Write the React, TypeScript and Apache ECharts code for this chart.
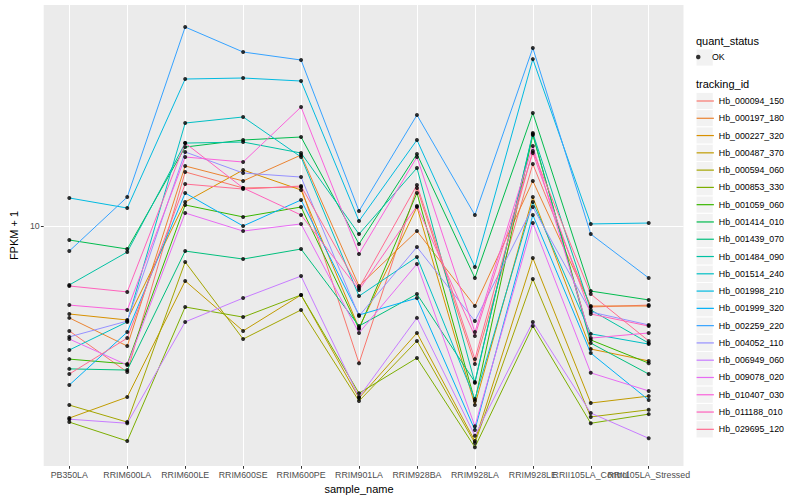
import React, { useEffect, useRef } from "react";
import * as echarts from "echarts";

const samples = [
  "PB350LA", "RRIM600LA", "RRIM600LE", "RRIM600SE", "RRIM600PE", "RRIM901LA",
  "RRIM928BA", "RRIM928LA", "RRIM928LE", "RRII105LA_Control", "RRII105LA_Stressed",
];
const trackingIds = [
  "Hb_000094_150", "Hb_000197_180", "Hb_000227_320", "Hb_000487_370", "Hb_000594_060",
  "Hb_000853_330", "Hb_001059_060", "Hb_001414_010", "Hb_001439_070", "Hb_001484_090",
  "Hb_001514_240", "Hb_001998_210", "Hb_001999_320", "Hb_002259_220", "Hb_004052_110",
  "Hb_006949_060", "Hb_009078_020", "Hb_010407_030", "Hb_011188_010", "Hb_029695_120",
];
const quantStatus = ["OK"];
const yTicks = [10];

// FPKM + 1 per sample (order of `samples`)
const hb000094_150 = [4.47, 3.26, 15.14, 13.39, 13.49, 3.49, 13.39, 3.47, 16.09, 5.37, 5.45];
const hb000197_180 = [4.94, 3.98, 15.85, 14.13, 17.24, 6.31, 9.62, 5.41, 14.13, 5.41, 5.41];
const hb000227_320 = [5.09, 4.86, 12.02, 15.37, 13.18, 4.57, 11.57, 2.53, 12.49, 3.89, 3.55];
const hb000487_370 = [2.29, 2.69, 6.56, 4.47, 5.89, 2.67, 4.40, 1.92, 7.82, 2.57, 2.71];
const hb000594_060 = [2.53, 2.22, 7.59, 4.20, 5.25, 2.61, 4.14, 1.89, 6.66, 2.31, 2.44];
const hb000853_330 = [2.22, 1.92, 5.37, 4.97, 5.89, 2.77, 3.63, 1.83, 4.64, 2.20, 2.36];
const hb001059_060 = [3.60, 3.47, 11.75, 10.72, 11.57, 4.54, 12.88, 2.61, 20.10, 4.17, 3.49];
const hb001414_010 = [8.98, 8.38, 18.33, 19.35, 19.80, 8.71, 17.38, 6.71, 23.81, 6.07, 5.67];
const hb001439_070 = [3.34, 3.31, 8.25, 7.76, 8.38, 4.64, 5.93, 3.02, 20.26, 4.07, 3.21];
const hb001484_090 = [6.36, 8.19, 18.90, 19.05, 17.51, 9.40, 15.61, 3.00, 20.42, 5.25, 4.07];
const hb001514_240 = [3.86, 4.79, 22.04, 23.09, 16.98, 5.84, 7.88, 2.65, 12.02, 4.37, 4.04];
const hb001998_210 = [12.40, 11.48, 30.90, 31.14, 30.43, 10.39, 19.35, 7.30, 36.00, 10.16, 10.23];
const hb001999_320 = [2.95, 4.43, 12.88, 10.00, 12.21, 5.05, 5.75, 2.09, 10.88, 3.77, 2.63];
const hb002259_220 = [8.25, 12.49, 46.05, 38.02, 35.75, 11.22, 23.44, 10.88, 39.20, 9.40, 6.71];
const hb004052_110 = [4.27, 4.82, 17.65, 15.02, 14.56, 5.01, 8.51, 4.82, 11.57, 5.17, 4.68];
const hb006949_060 = [2.27, 2.20, 4.79, 5.75, 6.81, 2.69, 4.94, 2.00, 4.79, 2.38, 1.96];
const hb009078_020 = [4.20, 3.44, 11.05, 9.62, 10.16, 4.40, 7.47, 2.15, 10.23, 3.24, 2.82];
const hb010407_030 = [5.45, 5.25, 16.98, 16.34, 24.93, 8.07, 16.98, 4.43, 18.48, 4.23, 4.40];
const hb011188_010 = [6.31, 6.03, 18.90, 13.39, 10.88, 6.12, 11.66, 4.30, 17.51, 5.09, 4.64];
const hb029695_120 = [3.21, 4.23, 13.80, 13.28, 13.59, 6.21, 13.70, 3.60, 17.78, 5.93, 4.14];

const fpkmPlusOne = [
  hb000094_150, hb000197_180, hb000227_320, hb000487_370, hb000594_060,
  hb000853_330, hb001059_060, hb001414_010, hb001439_070, hb001484_090,
  hb001514_240, hb001998_210, hb001999_320, hb002259_220, hb004052_110,
  hb006949_060, hb009078_020, hb010407_030, hb011188_010, hb029695_120,
];

const palette = [
  "#F8766D", "#EA8331", "#D89000", "#C09B00", "#A3A500", "#7CAE00", "#39B600",
  "#00BB4E", "#00BF7D", "#00C1A3", "#00BFC4", "#00BAE0", "#00B0F6", "#35A2FF",
  "#9590FF", "#C77CFF", "#E76BF3", "#FA62DB", "#FF62BC", "#FF6C91",
];

export default function App() {
  const ref = useRef<HTMLDivElement>(null);
  useEffect(() => {
    if (!ref.current) return;
    const chart = echarts.init(ref.current, null, { renderer: "svg" });
    const font = "'Liberation Sans', Arial, sans-serif";
    const yMin = Math.pow(10, 0.2);
    const yMax = Math.pow(10, 1.7367);
    const keyX = 696;
    const keySize = 17.28;
    const firstKeyCenter = 101;
    const iconBox = keySize * 0.8;
    const okCenter = 57.5;

    const lineSeries = trackingIds.map((id, i) => ({
      name: id,
      type: "line",
      xAxisIndex: 1,
      yAxisIndex: 1,
      data: fpkmPlusOne[i],
      symbol: "none",
      color: palette[i],
      lineStyle: { color: palette[i], width: 1 },
      itemStyle: { color: palette[i] },
      z: 2,
      silent: true,
    }));

    const points: any[] = [];
    fpkmPlusOne.forEach((vals) => {
      vals.forEach((v, j) => points.push([samples[j], v]));
    });

    const keyRects: any[] = [
      {
        type: "rect",
        shape: { x: keyX, y: okCenter - keySize / 2, width: keySize, height: keySize },
        style: { fill: "#F2F2F2", stroke: "#FFFFFF", lineWidth: 1 },
        z: 0,
      },
    ];
    trackingIds.forEach((_, i) => {
      keyRects.push({
        type: "rect",
        shape: {
          x: keyX,
          y: firstKeyCenter - keySize / 2 + keySize * i,
          width: keySize,
          height: keySize,
        },
        style: { fill: "#F2F2F2", stroke: "#FFFFFF", lineWidth: 1 },
        z: 0,
      });
    });

    const option: any = {
      animation: false,
      backgroundColor: "#FFFFFF",
      textStyle: { fontFamily: font },
      title: [
        {
          text: "quant_status",
          left: keyX,
          top: 35,
          padding: 0,
          textStyle: { fontSize: 11, fontWeight: "normal", color: "#000000", fontFamily: font },
        },
        {
          text: "tracking_id",
          left: keyX,
          top: 78.5,
          padding: 0,
          textStyle: { fontSize: 11, fontWeight: "normal", color: "#000000", fontFamily: font },
        },
      ],
      legend: [
        {
          data: quantStatus,
          orient: "vertical",
          left: keyX,
          top: okCenter - 5,
          padding: 0,
          itemWidth: keySize,
          itemHeight: 4.5,
          selectedMode: false,
          textStyle: { fontSize: 8.8, color: "#000000", fontFamily: font },
        },
        {
          data: trackingIds,
          orient: "vertical",
          left: keyX,
          top: firstKeyCenter - iconBox / 2,
          padding: 0,
          itemGap: keySize - iconBox,
          itemWidth: keySize,
          itemHeight: keySize,
          selectedMode: false,
          itemStyle: { color: "transparent", opacity: 0, borderWidth: 0 },
          lineStyle: { width: 1.2 },
          textStyle: { fontSize: 8.8, color: "#000000", fontFamily: font },
        },
      ],
      graphic: keyRects,
      grid: [
        {
          left: 34.5,
          right: 116.5,
          top: 5,
          bottom: 34,
          show: true,
          backgroundColor: "#EBEBEB",
          borderWidth: 0,
        },
        { left: 69.3, right: 151.3, top: 5, bottom: 34 },
      ],
      xAxis: [
        { gridIndex: 0, type: "value", min: 0, max: 1, show: false },
        {
          gridIndex: 1,
          type: "category",
          data: samples,
          boundaryGap: false,
          axisLine: { show: false },
          axisTick: { show: true, length: 2.75, lineStyle: { color: "#333333", width: 1 } },
          axisLabel: { interval: 0, color: "#4D4D4D", fontSize: 8.8, margin: 4, fontFamily: font },
          splitLine: { show: true, lineStyle: { color: "#FFFFFF", width: 1 } },
          name: "sample_name",
          nameLocation: "middle",
          nameGap: 17,
          nameTextStyle: { fontSize: 11, color: "#000000", fontFamily: font },
        },
      ],
      yAxis: [
        {
          gridIndex: 0,
          type: "log",
          logBase: 10,
          min: yMin,
          max: yMax,
          axisLine: { show: false },
          axisTick: {
            show: true,
            length: 2.75,
            customValues: yTicks,
            lineStyle: { color: "#333333", width: 1 },
          },
          axisLabel: {
            color: "#4D4D4D",
            fontSize: 8.8,
            margin: 4,
            fontFamily: font,
            customValues: yTicks,
            formatter: (v: number) => (yTicks.indexOf(Math.round(v)) >= 0 ? String(Math.round(v)) : ""),
          },
          splitLine: { show: true, lineStyle: { color: "#FFFFFF", width: 1 } },
          name: "FPKM + 1",
          nameLocation: "middle",
          nameGap: 17,
          nameRotate: 90,
          nameTextStyle: { fontSize: 11, color: "#000000", fontFamily: font },
        },
        { gridIndex: 1, type: "log", logBase: 10, min: yMin, max: yMax, show: false },
      ],
      series: [
        ...lineSeries,
        {
          name: "OK",
          type: "scatter",
          xAxisIndex: 1,
          yAxisIndex: 1,
          data: points,
          symbol: "circle",
          symbolSize: 4,
          itemStyle: { color: "#000000" },
          z: 3,
          silent: true,
        },
      ],
    };
    chart.setOption(option);
    return () => chart.dispose();
  }, []);
  return (
    <div
      ref={ref}
      style={{ position: "fixed", left: 0, top: 0, width: 800, height: 500, background: "#fff" }}
    />
  );
}
